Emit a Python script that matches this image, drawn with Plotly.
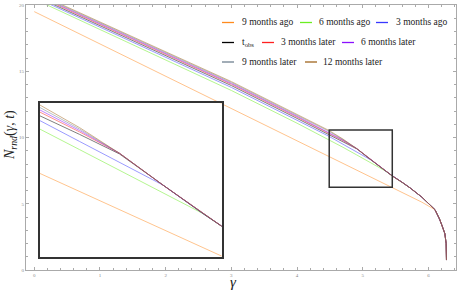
import plotly.graph_objects as go

# ---------------- data ----------------
gamma = [0.0, 1.0, 2.0, 3.0, 4.0, 4.49, 4.7, 4.91, 5.14, 5.35, 5.45, 5.6, 5.72, 5.9,
         6.1, 6.17, 6.21, 6.25, 6.27, 6.275]
tail = [7.46, 7.1, 6.62, 6.2, 5.5, 4.55, 3.85, 3.35, 2.75, 2.0, 0.75]  # common part from gamma=5.35

n_6m_ago = [20.45, 18.15, 15.85, 13.55, 11.08, 9.84, 9.26, 8.68, 8.04] + tail
n_3m_ago = [20.60, 18.32, 16.05, 13.78, 11.30, 10.08, 9.49, 8.90, 8.26] + tail
n_tobs = [20.70, 18.44, 16.18, 13.92, 11.44, 10.22, 9.69, 9.14, 8.26] + tail
n_3m_later = [20.79, 18.53, 16.27, 14.02, 11.54, 10.32, 9.76, 9.16, 8.26] + tail
n_6m_later = [20.85, 18.59, 16.33, 14.08, 11.60, 10.38, 9.80, 9.16, 8.26] + tail
n_9m_later = [20.91, 18.65, 16.40, 14.15, 11.67, 10.45, 9.84, 9.16, 8.26] + tail
n_12m_later = [20.97, 18.72, 16.47, 14.22, 11.74, 10.52, 9.88, 9.16, 8.26] + tail

gamma_9m_ago = [0.0, 2.0, 4.0, 5.0, 5.45, 5.72, 5.9, 6.1, 6.17, 6.21, 6.25, 6.27, 6.275]
n_9m_ago = [19.5, 14.64, 9.78, 7.35, 6.26, 5.6, 5.12, 4.55, 3.85, 3.35, 2.75, 2.0, 0.75]

series_names = ["9 months ago", "6 months ago", "3 months ago", "t<sub>obs</sub>",
                "3 months later", "6 months later", "9 months later", "12 months later"]
series_colors = ["#FF8A1E", "#6BEE22", "#3838FF", "#000000",
                 "#FF2020", "#8A10FF", "#708090", "#A0651E"]
series_x = [gamma_9m_ago] + [gamma] * 7
series_y = [n_9m_ago, n_6m_ago, n_3m_ago, n_tobs, n_3m_later, n_6m_later, n_9m_later, n_12m_later]

x_ticks = [0, 1, 2, 3, 4, 5, 6]
y_ticks = [0, 5, 10, 15, 20]
zoom_x = [4.49, 5.45]
zoom_y = [6.24, 10.57]

# ---------------- figure ----------------
fig = go.Figure()
for name, col, xs, ys in zip(series_names, series_colors, series_x, series_y):
    fig.add_trace(go.Scatter(x=xs, y=ys, mode="lines", name=name, showlegend=False,
                             line=dict(color=col, width=1), opacity=0.5,
                             xaxis="x", yaxis="y"))
for name, col, xs, ys in zip(series_names, series_colors, series_x, series_y):
    fig.add_trace(go.Scatter(x=xs, y=ys, mode="lines", name=name, showlegend=False,
                             line=dict(color=col, width=1), opacity=0.5,
                             xaxis="x2", yaxis="y2"))

W, H = 458, 290
ml, mr, mt, mb = 26, 2, 5, 20
pw, ph = W - ml - mr, H - mt - mb


def px2paper(px, py):
    return (px - ml) / pw, (H - mb - py) / ph


axis_common = dict(showline=True, linecolor="#aaaaaa", linewidth=1, mirror="ticks",
                   ticks="inside", ticklen=3, tickcolor="#aaaaaa", showgrid=False,
                   zeroline=False, tickfont=dict(size=5, color="#888888",
                                                 family="Liberation Serif"))

ix0, iy0 = px2paper(40, 256.7)
ix1, iy1 = px2paper(221.7, 103.3)

fig.update_layout(
    width=W, height=H, margin=dict(l=ml, r=mr, t=mt, b=mb),
    paper_bgcolor="white", plot_bgcolor="white", showlegend=False,
    xaxis=dict(range=[-0.126, 6.42], tickvals=x_ticks, domain=[0, 1],
               minor=dict(ticks="inside", ticklen=2, dtick=0.2, tickcolor="#aaaaaa"),
               **axis_common),
    yaxis=dict(range=[0, 20], tickvals=y_ticks, domain=[0, 1],
               minor=dict(ticks="inside", ticklen=2, dtick=1, tickcolor="#aaaaaa"),
               **axis_common),
    xaxis2=dict(domain=[ix0, ix1], anchor="y2", range=zoom_x, showline=True,
                linecolor="#333333", linewidth=2, mirror=True, showticklabels=False,
                ticks="", showgrid=False, zeroline=False),
    yaxis2=dict(domain=[iy0, iy1], anchor="x2", range=zoom_y, showline=True,
                linecolor="#333333", linewidth=2, mirror=True, showticklabels=False,
                ticks="", showgrid=False, zeroline=False),
)

# zoom box on main plot
fig.add_shape(type="rect", xref="x", yref="y", x0=zoom_x[0], x1=zoom_x[1],
              y0=zoom_y[0], y1=zoom_y[1], line=dict(color="#333333", width=1.5))

# axis titles
ax, ay = px2paper(233, 281.5)
fig.add_annotation(text="<i>γ</i>", xref="paper", yref="paper", x=ax, y=ay,
                   showarrow=False, xanchor="center", yanchor="middle",
                   font=dict(size=15, family="Liberation Serif", color="#222222"))
tx, ty = px2paper(10, 135)
fig.add_annotation(text="<i>N</i><sub><i>rnd</i></sub>(<i>γ</i>, <i>t</i>)",
                   xref="paper", yref="paper", x=tx, y=ty, textangle=-90,
                   showarrow=False, xanchor="center", yanchor="middle",
                   font=dict(size=14, family="Liberation Serif", color="#222222"))

# legend (rows of entries)
legend_slots = [  # (sample start px, row y px, text start px)
    (222, 22.5, 240), (300, 22.5, 317), (376, 22.5, 394),
    (222, 42.5, 240), (262, 42.5, 279), (342, 42.5, 359),
    (222, 62, 240), (305, 62, 321),
]
for name, col, (sx, sy, txp) in zip(series_names, series_colors, legend_slots):
    x0, y0 = px2paper(sx, sy)
    x1, _ = px2paper(sx + 12, sy)
    fig.add_shape(type="line", xref="paper", yref="paper", x0=x0, x1=x1, y0=y0, y1=y0,
                  line=dict(color=col, width=1.3))
    tx0, _ = px2paper(txp, sy)
    fig.add_annotation(text=name, xref="paper", yref="paper", x=tx0, y=y0,
                       showarrow=False, xanchor="left", yanchor="middle",
                       font=dict(size=9.5, family="Liberation Serif", color="#222222"))

fig.write_html("out.html", config={"displayModeBar": False},
               post_script="document.body.style.margin='0';document.body.style.overflow='hidden';")
